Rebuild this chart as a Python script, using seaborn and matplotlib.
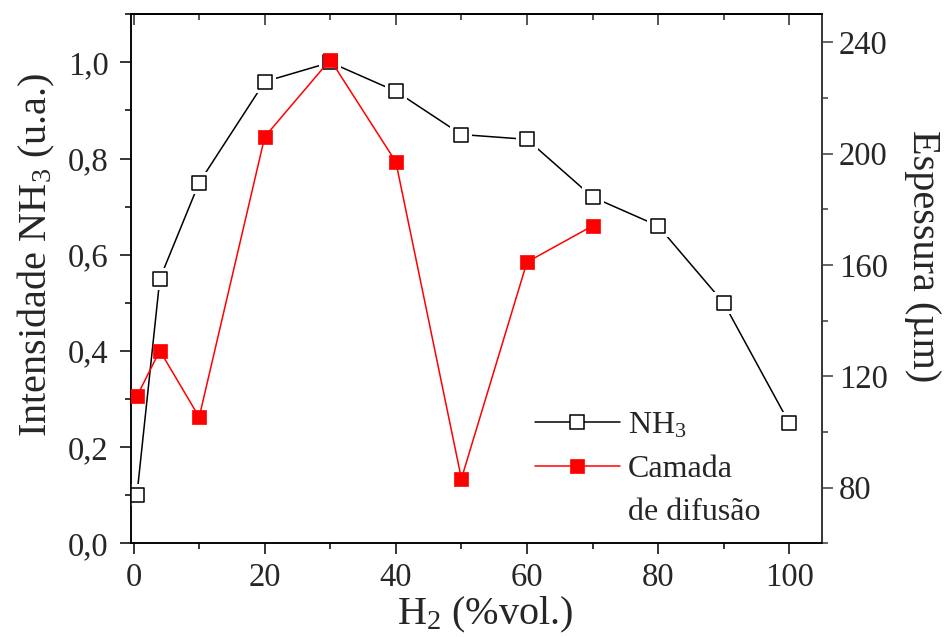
import matplotlib
matplotlib.use("Agg")
import matplotlib.pyplot as plt
from matplotlib.lines import Line2D
from matplotlib.ticker import MultipleLocator, FuncFormatter
import seaborn as sns

# NH3 intensity vs. H2 content (left axis)
h2_nh3 = [0.5, 4, 10, 20, 30, 40, 50, 60, 70, 80, 90, 100]
nh3_intensity = [0.10, 0.55, 0.75, 0.96, 1.00, 0.94, 0.85, 0.84, 0.72, 0.66, 0.50, 0.25]

# Diffusion layer thickness vs. H2 content (right axis, µm)
h2_layer = [0.5, 4, 10, 20, 30, 40, 50, 60, 70]
layer_thickness = [112.8, 129.2, 105.3, 206.0, 233.7, 197.0, 83.2, 161.0, 174.0]

x_ticks = [0, 20, 40, 60, 80, 100]
left_ticks = [0.0, 0.2, 0.4, 0.6, 0.8, 1.0]
right_ticks = [80, 120, 160, 200, 240]

legend_labels = ["NH$_3$", "Camada", "de difusão"]

sns.set_style("ticks")
plt.rcParams.update({
    "font.family": ["Liberation Serif", "DejaVu Serif"],
    "mathtext.fontset": "custom",
    "mathtext.rm": "Liberation Serif",
    "mathtext.it": "Liberation Serif:italic",
    "mathtext.default": "rm",
    "axes.linewidth": 1.1,
    "axes.edgecolor": "black",
})

RED = "#ff0000"
TICK_FS = 23.5
LABEL_FS = 29

fig = plt.figure(figsize=(9.53, 6.37), dpi=100)
ax = fig.add_axes([131 / 953, 1 - 543.3 / 637, 691 / 953, 529 / 637])
ax2 = ax.twinx()

# NH3 series: line, white gap around each marker, open squares
sns.lineplot(x=h2_nh3, y=nh3_intensity, ax=ax, color="black", linewidth=1.1,
             legend=False, zorder=2)
sns.scatterplot(x=h2_nh3, y=nh3_intensity, ax=ax, marker="s", s=15.5 ** 2,
                color="white", linewidth=0, legend=False, zorder=3)
sns.scatterplot(x=h2_nh3, y=nh3_intensity, ax=ax, marker="s", s=9.8 ** 2,
                facecolor="white", edgecolor="black", linewidth=1.1,
                legend=False, zorder=4)

# Diffusion layer series: red line with filled squares
sns.lineplot(x=h2_layer, y=layer_thickness, ax=ax2, color=RED, linewidth=1.1,
             legend=False, zorder=2)
sns.scatterplot(x=h2_layer, y=layer_thickness, ax=ax2, marker="s", s=10.6 ** 2,
                color=RED, edgecolor=RED, linewidth=0.5, legend=False, zorder=4)

ax.set_xlim(-0.4, 105)
ax.set_ylim(0, 1.1)
ax2.set_ylim(60, 250)

comma = FuncFormatter(lambda v, p: f"{v:.1f}".replace(".", ","))
ax.set_xticks(x_ticks)
ax.xaxis.set_minor_locator(MultipleLocator(10))
ax.set_yticks(left_ticks)
ax.yaxis.set_major_formatter(comma)
ax.yaxis.set_minor_locator(MultipleLocator(0.1))
ax2.set_yticks(right_ticks)
ax2.yaxis.set_minor_locator(MultipleLocator(20))

ax.tick_params(which="major", direction="out", length=8, width=1.1,
               labelsize=TICK_FS, color="black")
ax.tick_params(which="minor", direction="out", length=4.5, width=1.1, color="black")
ax.tick_params(axis="y", pad=8)
ax.tick_params(axis="x", pad=6)
ax2.tick_params(axis="y", which="major", direction="out", length=8, width=1.1,
                labelsize=TICK_FS, color="#3a3a3a", pad=4)
ax2.tick_params(axis="y", which="minor", direction="out", length=4.5, width=1.1,
                color="#3a3a3a")
ax2.spines["right"].set_color("#3a3a3a")

top = ax.secondary_xaxis("top")
top.set_xticks(x_ticks)
top.xaxis.set_minor_locator(MultipleLocator(10))
top.tick_params(which="major", direction="in", length=8, width=1.1, labeltop=False)
top.tick_params(which="minor", direction="in", length=4.5, width=1.1)

ax.set_xlabel("H$_2$ (%vol.)", fontsize=LABEL_FS)
ax.xaxis.set_label_coords(0.512, -0.098)
ax.set_ylabel("Intensidade NH$_3$ (u.a.)", fontsize=LABEL_FS)
ax.yaxis.set_label_coords(-0.107, 0.545)
ax2.set_ylabel("Espessura (µm)", fontsize=LABEL_FS, rotation=270, va="bottom")
ax2.yaxis.set_label_coords(1.119, 0.542)

handles = [
    Line2D([], [], color="black", linewidth=1.1, marker="s", markersize=9.8,
           markerfacecolor="white", markeredgecolor="black", markeredgewidth=1.1),
    Line2D([], [], color=RED, linewidth=1.1, marker="s", markersize=10.6,
           markerfacecolor=RED, markeredgecolor=RED, markeredgewidth=0.5),
    Line2D([], [], linestyle="none"),
]
ax2.legend(handles, legend_labels, loc="upper left", bbox_to_anchor=(0.584, 0.251),
           frameon=False, fontsize=23, handlelength=2.66, handletextpad=0.25,
           borderpad=0, borderaxespad=0, labelspacing=0.45)

fig.savefig("out.png", dpi=100)
